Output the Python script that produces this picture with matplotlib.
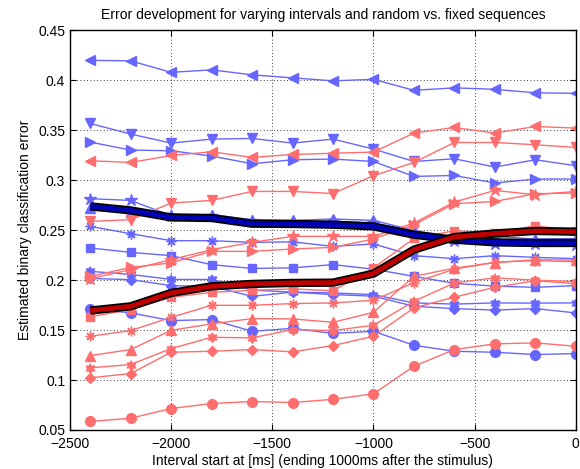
import numpy as np
import matplotlib
matplotlib.use("Agg")
from matplotlib import pyplot as plt

plt.rcParams['font.family'] = ['Liberation Sans', 'DejaVu Sans']

# interval start positions [ms]
starts = [-2400, -2200, -2000, -1800, -1600, -1400, -1200, -1000, -800, -600, -400, -200, 0]

# random sequences (blue), one list per marker
blue_left  = [0.4200, 0.4195, 0.4080, 0.4105, 0.4055, 0.4025, 0.3995, 0.4010, 0.3900, 0.3925, 0.3910, 0.3875, 0.3870]
blue_down  = [0.3568, 0.3462, 0.3372, 0.3412, 0.3418, 0.3372, 0.3412, 0.3312, 0.3188, 0.3215, 0.3132, 0.3205, 0.3145]
blue_right = [0.3382, 0.3302, 0.3295, 0.3242, 0.3165, 0.3205, 0.3212, 0.3188, 0.3038, 0.3048, 0.2972, 0.3012, 0.3012]
blue_up    = [0.2725, 0.2685, 0.2655, 0.2655, 0.2605, 0.2598, 0.2612, 0.2598, 0.2498, 0.2420, 0.2437, 0.2412, 0.2415]
blue_penta = [0.2815, 0.2798, 0.2645, 0.2640, 0.2590, 0.2585, 0.2590, 0.2570, 0.2470, 0.2395, 0.2365, 0.2360, 0.2355]
blue_hexa  = [0.2088, 0.2057, 0.2007, 0.2007, 0.1900, 0.1880, 0.1872, 0.1855, 0.1772, 0.1760, 0.1772, 0.1770, 0.1772]
blue_ast   = [0.2538, 0.2465, 0.2395, 0.2395, 0.2378, 0.2383, 0.2338, 0.2362, 0.2245, 0.2215, 0.2245, 0.2228, 0.2215]
blue_sq    = [0.2322, 0.2278, 0.2245, 0.2155, 0.2117, 0.2123, 0.2155, 0.2110, 0.2038, 0.1968, 0.1940, 0.1928, 0.1945]
blue_circ  = [0.1715, 0.1672, 0.1595, 0.1605, 0.1488, 0.1517, 0.1467, 0.1488, 0.1348, 0.1288, 0.1278, 0.1255, 0.1265]
blue_diam  = [0.2017, 0.2005, 0.1945, 0.1938, 0.1838, 0.1880, 0.1855, 0.1840, 0.1738, 0.1715, 0.1700, 0.1715, 0.1672]
blue_mean  = [0.2738, 0.2698, 0.2628, 0.2622, 0.2565, 0.2562, 0.2555, 0.2538, 0.2455, 0.2405, 0.2378, 0.2372, 0.2372]

# fixed sequences (red)
red_left  = [0.3195, 0.3178, 0.3248, 0.3285, 0.3228, 0.3258, 0.3270, 0.3282, 0.3472, 0.3528, 0.3472, 0.3538, 0.3522]
red_down  = [0.2588, 0.2605, 0.2772, 0.2798, 0.2888, 0.2888, 0.2867, 0.3045, 0.3178, 0.3378, 0.3378, 0.3355, 0.3328]
red_right = [0.2038, 0.2127, 0.2173, 0.2288, 0.2288, 0.2312, 0.2328, 0.2412, 0.2555, 0.2765, 0.2788, 0.2865, 0.2872]
red_up    = [0.1245, 0.1305, 0.1498, 0.1562, 0.1615, 0.1612, 0.1578, 0.1678, 0.2038, 0.2120, 0.2175, 0.2205, 0.2200]
red_penta = [0.2015, 0.2105, 0.2205, 0.2305, 0.2378, 0.2438, 0.2438, 0.2438, 0.2572, 0.2782, 0.2898, 0.2855, 0.2888]
red_hexa  = [0.1122, 0.1155, 0.1315, 0.1428, 0.1422, 0.1505, 0.1495, 0.1548, 0.1788, 0.1972, 0.2023, 0.2000, 0.1985]
red_ast   = [0.1438, 0.1495, 0.1628, 0.1748, 0.1748, 0.1765, 0.1772, 0.1798, 0.1975, 0.2110, 0.2180, 0.2195, 0.2185]
red_sq    = [0.1633, 0.1705, 0.1828, 0.1878, 0.1898, 0.1912, 0.1893, 0.2122, 0.2417, 0.2495, 0.2467, 0.2545, 0.2488]
red_circ  = [0.0585, 0.0618, 0.0715, 0.0765, 0.0785, 0.0775, 0.0807, 0.0862, 0.1138, 0.1305, 0.1362, 0.1372, 0.1338]
red_diam  = [0.1022, 0.1065, 0.1278, 0.1288, 0.1305, 0.1282, 0.1345, 0.1438, 0.1722, 0.1830, 0.1928, 0.1995, 0.1965]
red_mean  = [0.1695, 0.1738, 0.1872, 0.1938, 0.1962, 0.1972, 0.1975, 0.2065, 0.2305, 0.2432, 0.2467, 0.2492, 0.2485]

# six pointed star (hexagram) as marker path
ang = np.arange(12) * np.pi / 6 + np.pi / 2
rad = np.where(np.arange(12) % 2 == 0, 1.0, 1.0 / np.sqrt(3))
hexagram = list(zip(rad * np.cos(ang), rad * np.sin(ang)))
asterisk = (8, 2, 0)

markers = ['<', 'v', '>', '^', '*', hexagram, asterisk, 's', 'o', 'D']
blue_series = [blue_left, blue_down, blue_right, blue_up, blue_penta, blue_hexa, blue_ast, blue_sq, blue_circ, blue_diam]
red_series = [red_left, red_down, red_right, red_up, red_penta, red_hexa, red_ast, red_sq, red_circ, red_diam]

blue_c = '#6666ff'
red_c = '#ff6e6e'

fig = plt.figure(figsize=(5.8, 4.69), dpi=100)
ax = fig.add_axes([0.1207, 0.0832, 0.872, 0.852])

def draw(series, color):
    for vals, m in zip(series, markers):
        ms = 7
        if m == 'D':
            ms = 5.5
        elif m == 's':
            ms = 5.5
        elif m == '*':
            ms = 9
        ax.plot(starts, vals, color=color, lw=1, marker=m, ms=ms,
                mfc=color, mec=color, mew=1)

draw(blue_series, blue_c)
draw(red_series, red_c)

# mean curves, black outline underneath
ax.plot(starts, blue_mean, color='black', lw=6, solid_capstyle='butt')
ax.plot(starts, blue_mean, color='#0000b4', lw=3.5, solid_capstyle='butt')
ax.plot(starts, red_mean, color='black', lw=6, solid_capstyle='butt')
ax.plot(starts, red_mean, color='#c00000', lw=3.5, solid_capstyle='butt')

ax.set_xlim(-2500, 0)
ax.set_ylim(0.05, 0.45)
ax.set_xticks(np.arange(-2500, 1, 500))
ax.set_yticks(np.arange(0.05, 0.451, 0.05))
ax.set_yticklabels(['0.05', '0.1', '0.15', '0.2', '0.25', '0.3', '0.35', '0.4', '0.45'])
ax.grid(True, color='black', linestyle=(0, (1, 3)), linewidth=0.6)
ax.tick_params(direction='in', top=True, right=True, labelsize=10, length=4)
ax.tick_params(axis='x', pad=5)
for s in ax.spines.values():
    s.set_linewidth(1)

ax.set_title('Error development for varying intervals and random vs. fixed sequences', fontsize=10, pad=8)
ax.set_xlabel('Interval start at [ms] (ending 1000ms after the stimulus)', fontsize=10, labelpad=2)
ax.set_ylabel('Estimated binary classification error', fontsize=10)

plt.savefig('out.png', dpi=100)
plt.close()
